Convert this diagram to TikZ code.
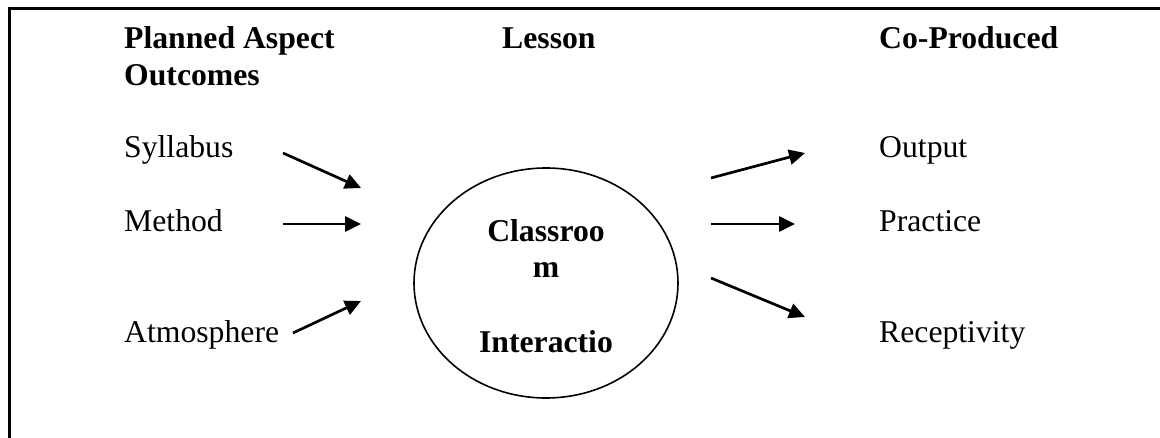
\documentclass[tikz,border=0pt]{standalone}
\usepackage{fontspec}
\setmainfont{Liberation Serif}
\usetikzlibrary{arrows.meta,shapes.geometric}
\begin{document}
\begin{tikzpicture}[x=1pt,y=-1pt,
  txt/.style={anchor=base west,inner sep=0pt,font=\fontsize{31.7}{37}\selectfont},
  head/.style={txt,font=\fontsize{31.7}{37}\selectfont\bfseries},
  ctr/.style={anchor=base,inner sep=0pt,font=\fontsize{31.7}{37}\selectfont\bfseries},
  arr/.style={line width=2.7pt,-{Triangle[length=16pt,width=15pt]}},
  frame/.style={line width=2.4pt}]
\useasboundingbox (0,0) rectangle (1160,438);
% frame (top and left edges only)
\coordinate (ftr) at (1160,8.5);
\coordinate (ftl) at (9.5,8.5);
\coordinate (fbl) at (9.5,438);
\draw[frame] (ftr) -- (ftl) -- (fbl);
% headings
\node[head] (h1) at (124,49) {Planned Aspect};
\node[head] (h1b) at (124,86) {Outcomes};
\node[head] (h2) at (502,49) {Lesson};
\node[head] (h3) at (879,49) {Co-Produced};
% left labels
\node[txt] (syl) at (124,158) {Syllabus};
\node[txt] (met) at (124,232) {Method};
\node[txt] (atm) at (124,343) {Atmosphere};
% right labels
\node[txt] (out) at (879,158) {Output};
\node[txt] (pra) at (879,232) {Practice};
\node[txt] (rec) at (879,343) {Receptivity};
% central ellipse
\node[draw,line width=1.6pt,ellipse,minimum width=264pt,minimum height=230pt,inner sep=0pt] (cls) at (546,283) {};
\node[ctr] (c1) at (546,242) {Classroo};
\node[ctr] (c2) at (546,278) {m};
\node[ctr] (c3) at (546,353) {Interactio};
% arrow end points
\coordinate (s1) at (283,153);
\coordinate (t1) at (361,188);
\coordinate (s2) at (283,224);
\coordinate (t2) at (361,224);
\coordinate (s3) at (293,333);
\coordinate (t3) at (361,301);
\coordinate (s4) at (711,178);
\coordinate (t4) at (805,153);
\coordinate (s5) at (711,224);
\coordinate (t5) at (795,224);
\coordinate (s6) at (711,278);
\coordinate (t6) at (805,317);
\draw[arr] (s1) -- (t1);
\draw[arr] (s2) -- (t2);
\draw[arr] (s3) -- (t3);
\draw[arr] (s4) -- (t4);
\draw[arr] (s5) -- (t5);
\draw[arr] (s6) -- (t6);
\end{tikzpicture}
\end{document}
